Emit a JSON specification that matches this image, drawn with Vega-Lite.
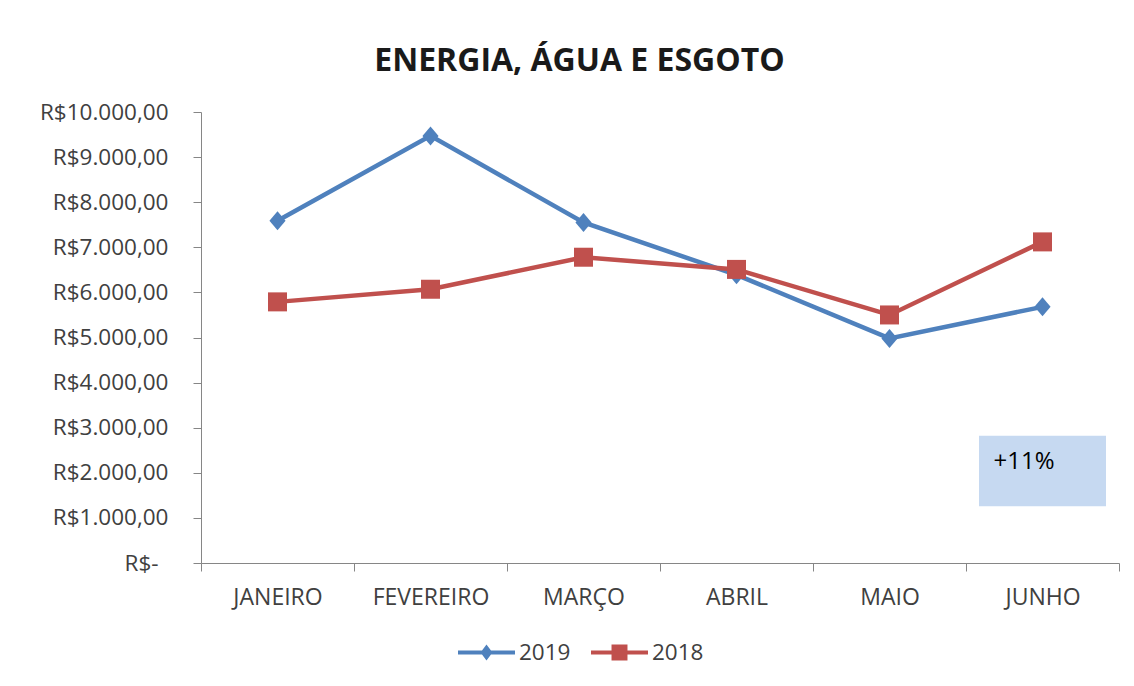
{
  "$schema": "https://vega.github.io/schema/vega-lite/v6.json",
  "width": 918,
  "height": 451,
  "autosize": {"type": "none"},
  "padding": {"left": 201, "top": 112, "right": 15, "bottom": 123},
  "background": "white",
  "title": {"text": "ENERGIA, ÁGUA E ESGOTO", "font": "Open Sans", "fontSize": 32, "fontWeight": "bold", "color": "#1a1a1a", "anchor": "middle", "frame": "bounds", "offset": 23},
  "config": {"view": {"stroke": null}, "font": "Open Sans"},
  "data": {"values": [
    {"mes": "JANEIRO", "ano": "2019", "valor": 7590},
    {"mes": "FEVEREIRO", "ano": "2019", "valor": 9470},
    {"mes": "MARÇO", "ano": "2019", "valor": 7550},
    {"mes": "ABRIL", "ano": "2019", "valor": 6390},
    {"mes": "MAIO", "ano": "2019", "valor": 4980},
    {"mes": "JUNHO", "ano": "2019", "valor": 5680},
    {"mes": "JANEIRO", "ano": "2018", "valor": 5790},
    {"mes": "FEVEREIRO", "ano": "2018", "valor": 6070},
    {"mes": "MARÇO", "ano": "2018", "valor": 6780},
    {"mes": "ABRIL", "ano": "2018", "valor": 6510},
    {"mes": "MAIO", "ano": "2018", "valor": 5500},
    {"mes": "JUNHO", "ano": "2018", "valor": 7120}
  ]},
  "encoding": {
    "x": {
      "field": "mes", "type": "nominal",
      "sort": ["JANEIRO", "FEVEREIRO", "MARÇO", "ABRIL", "MAIO", "JUNHO"],
      "scale": {"type": "band", "paddingInner": 0, "paddingOuter": 0},
      "axis": {"title": null, "labelAngle": 0, "tickBand": "extent", "tickSize": 8, "labelPadding": 15, "labelFontSize": 23, "labelFont": "Open Sans", "labelColor": "#404040", "domainColor": "#868686", "tickColor": "#868686", "grid": false}
    },
    "color": {"field": "ano", "type": "nominal", "scale": {"domain": ["2019", "2018"], "range": ["#4F81BD", "#C0504D"]},
      "legend": {"title": null, "orient": "none", "legendX": 257, "legendY": 512, "direction": "horizontal", "symbolSize": 3249, "symbolStrokeWidth": 0, "labelFontSize": 22.5, "labelFont": "Open Sans", "labelColor": "#404040", "columnPadding": 20, "labelOffset": 4,
        "encode": {"symbols": {"update": {"shape": {"signal": "datum.value == '2019' ? 'M-1,-0.07H1V0.07H-1Z M0,-0.28L0.21,0L0,0.28L-0.21,0Z' : 'M-1,-0.07H1V0.07H-1Z M-0.28,-0.28H0.28V0.28H-0.28Z'"}, "fill": {"signal": "datum.value == '2019' ? '#4F81BD' : '#C0504D'"}, "opacity": {"value": 1}}}}}}
  },
  "layer": [
    {
      "mark": {"type": "line", "strokeWidth": 4.5},
      "encoding": {
        "y": {
          "field": "valor", "type": "quantitative",
          "scale": {"domain": [0, 10000], "nice": false},
          "axis": {"title": null, "values": [0, 1000, 2000, 3000, 4000, 5000, 6000, 7000, 8000, 9000, 10000],
            "labelExpr": "datum.value == 0 ? 'R$-' : 'R$' + replace(replace(replace(format(datum.value, ',.2f'), ',', '#'), '.', ','), '#', '.')",
            "tickSize": 8, "labelPadding": {"condition": {"test": "datum.value == 0", "value": 35}, "value": 25}, "labelFontSize": 22.5, "labelFont": "Open Sans", "labelColor": "#404040", "domainColor": "#868686", "tickColor": "#868686", "grid": false}
        }
      }
    },
    {
      "transform": [{"filter": "datum.ano == '2019'"}],
      "mark": {"type": "point", "filled": true, "opacity": 1, "size": 361, "shape": "M0,-1L0.85,0L0,1L-0.85,0Z"},
      "encoding": {
        "y": {"field": "valor", "type": "quantitative"}
      }
    },
    {
      "transform": [{"filter": "datum.ano == '2018'"}],
      "mark": {"type": "point", "filled": true, "opacity": 1, "size": 361, "shape": "square"},
      "encoding": {
        "y": {"field": "valor", "type": "quantitative"}
      }
    },
    {
      "data": {"values": [{"mes": "JUNHO", "topo": 2820, "base": 1260, "ty": 2240, "label": "+11%"}]},
      "mark": {"type": "bar", "color": "#C6D9F1", "width": {"band": 0.83}},
      "encoding": {
        "y": {"field": "topo", "type": "quantitative", "title": null},
        "y2": {"field": "base"},
        "color": {"value": "#C6D9F1"}
      }
    },
    {
      "data": {"values": [{"mes": "JUNHO", "topo": 2820, "base": 1260, "ty": 2240, "label": "+11%"}]},
      "mark": {"type": "text", "align": "left", "baseline": "middle", "dx": -49, "fontSize": 24, "font": "Open Sans"},
      "encoding": {
        "y": {"field": "ty", "type": "quantitative", "title": null},
        "text": {"field": "label"},
        "color": {"value": "#000000"}
      }
    }
  ]
}
